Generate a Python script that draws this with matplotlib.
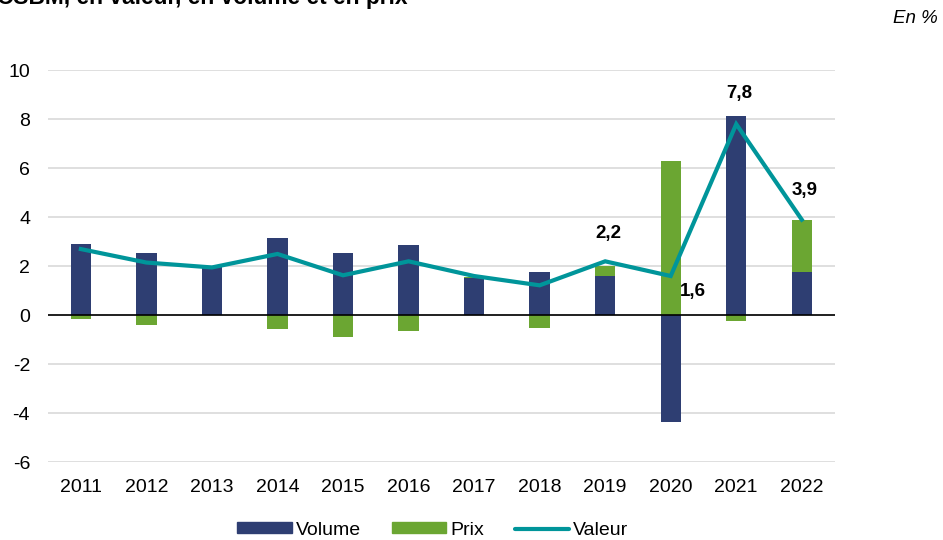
import numpy as np
import matplotlib.pyplot as plt
from matplotlib.patches import Patch
from matplotlib.lines import Line2D

plt.rcParams['font.family'] = ['Liberation Sans', 'DejaVu Sans']
plt.rcParams['axes.unicode_minus'] = False

years = ['2011', '2012', '2013', '2014', '2015', '2016', '2017', '2018', '2019', '2020', '2021', '2022']
volume = [2.9, 2.55, 2.0, 3.15, 2.55, 2.88, 1.5, 1.77, 1.6, -4.37, 8.13, 1.77]
prix = [-0.15, -0.4, 0.0, -0.57, -0.9, -0.64, 0.07, -0.52, 0.4, 6.28, -0.23, 2.1]
valeur = [2.7, 2.15, 1.95, 2.5, 1.63, 2.2, 1.6, 1.22, 2.2, 1.6, 7.8, 3.9]
labels = {8: '2,2', 9: '1,6', 10: '7,8', 11: '3,9'}

c_vol = '#2E3E72'
c_prix = '#6BA632'
c_val = '#00959A'

fig = plt.figure(figsize=(9.43, 5.4), dpi=100)
ax = fig.add_axes([0.051, 0.144, 0.834, 0.726])

x = np.arange(len(years))
vol = np.array(volume)
pr = np.array(prix)
# prix is stacked on volume when both share a sign, otherwise drawn from zero
base = np.where(np.sign(pr) == np.sign(vol), vol, 0)
w = 0.31
ax.bar(x, vol, width=w, color=c_vol, zorder=2)
ax.bar(x, pr, width=w, bottom=base, color=c_prix, zorder=2)
ax.plot(x, valeur, color=c_val, lw=3, zorder=3, solid_joinstyle='miter')

ax.axhline(0, color='black', lw=1.2, zorder=2.5)
ax.set_ylim(-6, 10)
ax.set_xlim(-0.5, 11.5)
ax.set_yticks(range(-6, 11, 2))
ax.yaxis.grid(True, color='#D9D9D9', lw=1.2, zorder=0)
ax.set_axisbelow(True)
ax.set_xticks(x)
ax.set_xticklabels(years)
ax.tick_params(length=0, labelsize=14)
ax.tick_params(axis='x', pad=12)
ax.tick_params(axis='y', pad=13)
for s in ax.spines.values():
    s.set_visible(False)

offs = {8: (2, 20), 9: (16, -11), 10: (2, 22), 11: (2, 21)}
for i, t in labels.items():
    ax.annotate(t, xy=(i, valeur[i]), xytext=offs[i], textcoords='offset points',
                ha='center', va='center', fontsize=13.5, fontweight='bold')

handles = [Patch(color=c_vol, label='Volume'), Patch(color=c_prix, label='Prix'),
           Line2D([], [], color=c_val, lw=3, label='Valeur', solid_capstyle='round')]
fig.legend(handles=handles, loc='center', bbox_to_anchor=(0.459, 0.018), ncol=3,
           frameon=False, fontsize=14, handlelength=2.8, handleheight=0.5,
           handletextpad=0.2, columnspacing=1.6, borderpad=0.1)

fig.text(-0.003, 1 - 4 / 540, 'CSBM, en valeur, en volume et en prix', ha='left',
         va='baseline', fontsize=16.4, fontweight='bold')
fig.text(0.994, 0.965, 'En %', ha='right', va='center', fontsize=13.5, style='italic')

fig.savefig('out.png', dpi=100)
